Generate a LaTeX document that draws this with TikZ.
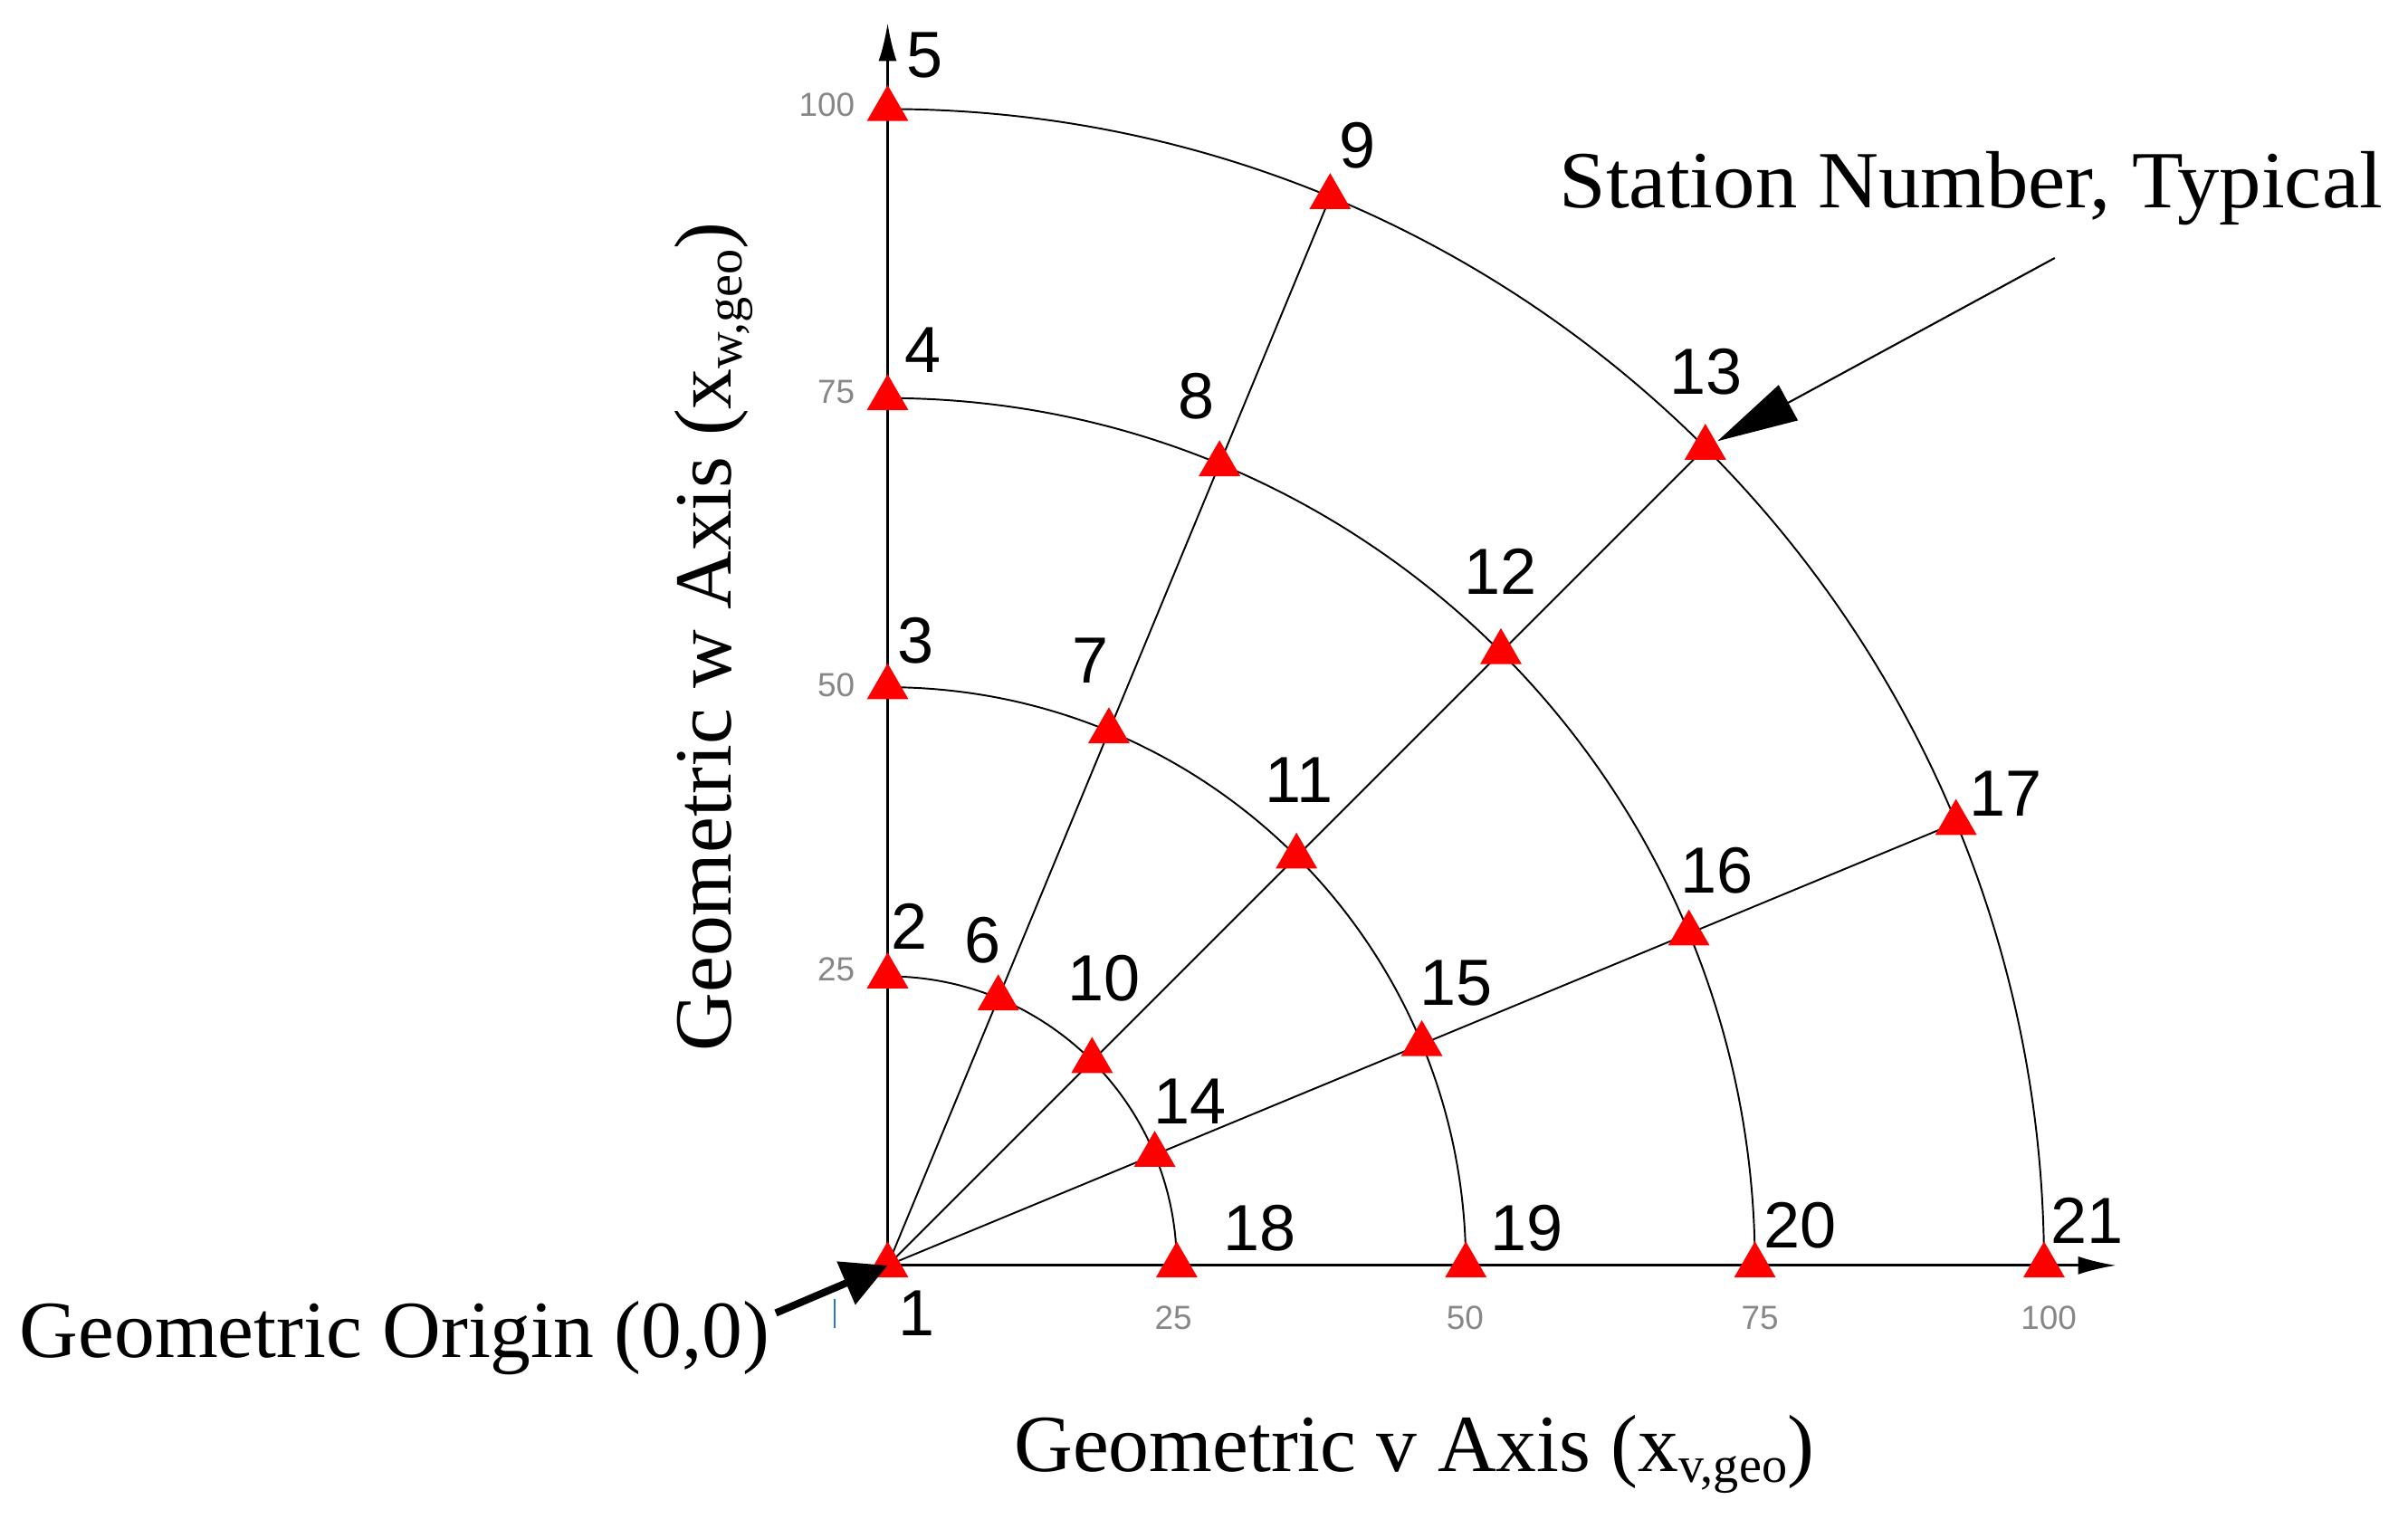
\documentclass[tikz,border=0pt]{standalone}
\usepackage{fontspec}
\setmainfont{Liberation Serif}
\newfontfamily\numfont{Liberation Sans}
\usetikzlibrary{shapes.geometric,arrows.meta,backgrounds}
\definecolor{tickgray}{RGB}{135,135,135}
\definecolor{tickblue}{RGB}{40,120,200}
\begin{document}
\begin{tikzpicture}[x=0.0169643cm,y=0.0169643cm,
  station/.style={regular polygon,regular polygon sides=3,fill=red,draw=none,inner sep=0pt,outer sep=0pt,minimum size=0.53cm},
  num/.style={font=\numfont\fontsize{20.5}{24}\selectfont,inner sep=0pt},
  ticklbl/.style={font=\numfont\fontsize{10.5}{12}\selectfont,text=tickgray,inner sep=0pt},
  big/.style={font=\fontsize{25.5}{30}\selectfont,inner sep=0pt},
  axisline/.style={line width=0.8pt,-{Latex[length=0.42cm,width=0.2cm]}},
  gridline/.style={line width=0.55pt},
]
\path[use as bounding box] (-578,-165) rectangle (990,824);

% stations
\node[station] (s1) at (0,0) {};
\foreach \a [count=\i from 0] in {90,67.5,45,22.5,0} {
  \foreach \r [count=\j] in {188.25,376.5,564.75,753} {
    \pgfmathtruncatemacro{\k}{1+4*\i+\j}
    \node[station] (s\k) at (\a:\r) {};
  }
}
\coordinate (wend) at (0,809);
\coordinate (vend) at (800,0);

\begin{pgfonlayer}{background}
  \draw[axisline] (s1.center) -- (wend);
  \draw[axisline] (s1.center) -- (vend);
  \draw[gridline] (s1.center) -- (s9.center);
  \draw[gridline] (s1.center) -- (s13.center);
  \draw[gridline] (s1.center) -- (s17.center);
  \draw[gridline] (s18.center) arc[start angle=0,end angle=90,radius=188.25];
  \draw[gridline] (s19.center) arc[start angle=0,end angle=90,radius=376.5];
  \draw[gridline] (s20.center) arc[start angle=0,end angle=90,radius=564.75];
  \draw[gridline] (s21.center) arc[start angle=0,end angle=90,radius=753];
\end{pgfonlayer}

% station numbers
\foreach \n/\x/\y in {1/19/-31,2/14/221,3/18/407,4/23/596,5/24/788,
  6/62/212,7/132/394,8/201/566,9/306/729,
  10/141/187,11/268/316,12/399/452,13/533/582,
  14/197/107,15/370/184,16/540/257,17/728/307,
  18/242/24,19/416/24,20/594/26,21/781/29}
  \node[num] (l\n) at (\x,\y) {\n};

% tick labels
\node[ticklbl,anchor=east] (tw100) at (-21,756) {100};
\node[ticklbl,anchor=east] (tw75) at (-21,569) {75};
\node[ticklbl,anchor=east] (tw50) at (-21,378) {50};
\node[ticklbl,anchor=east] (tw25) at (-21,193) {25};
\node[ticklbl] (tv25) at (186,-34) {25};
\node[ticklbl] (tv50) at (376,-34) {50};
\node[ticklbl] (tv75) at (568,-34) {75};
\node[ticklbl] (tv100) at (756,-34) {100};
\draw[tickblue,line width=0.4pt] (-34.5,-22) -- (-34.5,-41);

% texts
\node[big,anchor=base west,xscale=1.035] (sntxt) at (437,688.5) {Station Number, Typical};
\node[big,anchor=base west] (origintxt) at (-565.5,-60.1) {Geometric Origin (0,0)};
\node[big,anchor=base west] (vlab) at (82,-134) {Geometric v Axis (x\raisebox{-0.3ex}{\fontsize{16}{18}\selectfont v,geo})};
\node[big,anchor=base west,rotate=90] (wlab) at (-102,139) {Geometric w Axis (x\raisebox{-0.3ex}{\fontsize{16}{18}\selectfont w,geo})};

% annotation arrows
\coordinate (oa) at (-72.8,-31);
\draw[line width=2.3pt,-{Triangle[length=0.5cm,width=0.5cm]}] (oa) -- (s1.center);
\coordinate (lead) at (760,656);
\draw[line width=0.6pt,-{Triangle[length=0.89cm,width=0.44cm]},shorten >=0.153cm] (lead) -- (s13.center);
\end{tikzpicture}
\end{document}
